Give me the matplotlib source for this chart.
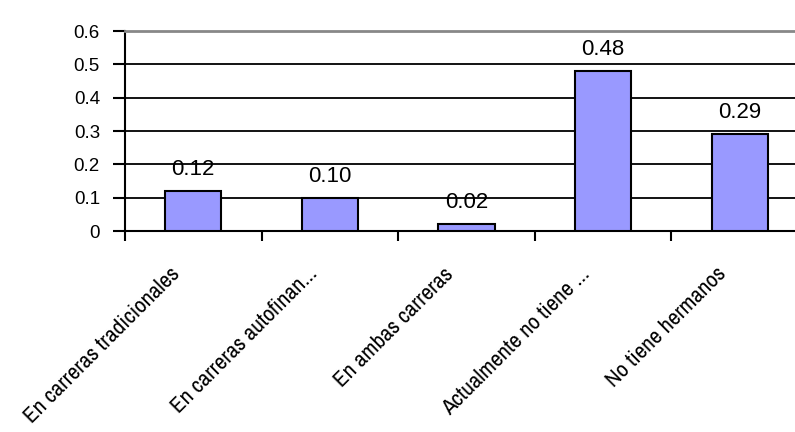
import matplotlib
matplotlib.use("Agg")
import matplotlib.pyplot as plt
from matplotlib import font_manager as fm
import numpy as np

categories = ["En carreras tradicionales", "En carreras autofinan...", "En ambas carreras",
              "Actualmente no tiene ...", "No tiene hermanos"]
values = [0.12, 0.10, 0.02, 0.48, 0.29]
value_labels = ["0.12", "0.10", "0.02", "0.48", "0.29"]
yticks = [0, 0.1, 0.2, 0.3, 0.4, 0.5, 0.6]
ytick_labels = ["0", "0.1", "0.2", "0.3", "0.4", "0.5", "0.6"]

names = {f.name for f in fm.fontManager.ttflist}
xfont = "Liberation Sans"
for cand in ["Arial Narrow", "Liberation Sans Narrow", "Archivo Narrow", "PT Sans Narrow",
             "Roboto Condensed", "Open Sans Condensed"]:
    if cand in names:
        xfont = cand
        break

W, H = 795, 432
fig = plt.figure(figsize=(W / 100, H / 100), dpi=100)
ax = fig.add_axes([125 / W, 1 - 231 / H, (808 - 125) / W, 200 / H])

x = np.arange(len(categories))
ax.bar(x, values, width=0.41, color="#9999FF", edgecolor="black", linewidth=1.5, zorder=3)

ax.set_xlim(-0.5, len(categories) - 0.5)
ax.set_ylim(0, 0.6)

ax.set_yticks(yticks)
ax.set_yticklabels(ytick_labels, fontsize=13.5, family="Liberation Sans")
ax.yaxis.grid(True, color="black", linewidth=1.3, zorder=0)
ax.set_axisbelow(True)

ax.set_xticks(np.arange(len(categories) + 1) - 0.5)
ax.set_xticklabels([])
ax.tick_params(axis="x", length=7, width=1.5, direction="out")
ax.tick_params(axis="y", length=9, width=1.5, direction="out", pad=9)

ax.spines["right"].set_visible(False)
ax.spines["top"].set_color("#888888")
ax.spines["top"].set_linewidth(2)
ax.spines["left"].set_linewidth(1.5)
ax.spines["bottom"].set_linewidth(1.5)

for xi, v, lab in zip(x, values, value_labels):
    ax.annotate(lab, xy=(xi, v), xytext=(0, 11), textcoords="offset pixels",
                ha="center", va="bottom", fontsize=16, family="Liberation Sans")

# size x labels from the measured text widths (fit the longest label inside the figure)
renderer = fig.canvas.get_renderer()
def width_at(s, size):
    t = fig.text(0, 0, s, fontsize=size, family=xfont)
    w = t.get_window_extent(renderer).width
    t.remove()
    return w
w5 = width_at(categories[-1], 10)
w1 = width_at(categories[0], 10)
size_a = 10 * 176.0 / w5
target1 = w1 * size_a / 10 - 20
xsize = 10 * target1 / w1

for xi, cat in zip(x, categories):
    ax.annotate(cat, xy=(xi, 0), xycoords=("data", "axes fraction"),
                xytext=(-12, -44), textcoords="offset pixels",
                rotation=45, ha="right", va="baseline", rotation_mode="anchor",
                fontsize=xsize, family=xfont, annotation_clip=False)

fig.savefig("out.png", dpi=100)
